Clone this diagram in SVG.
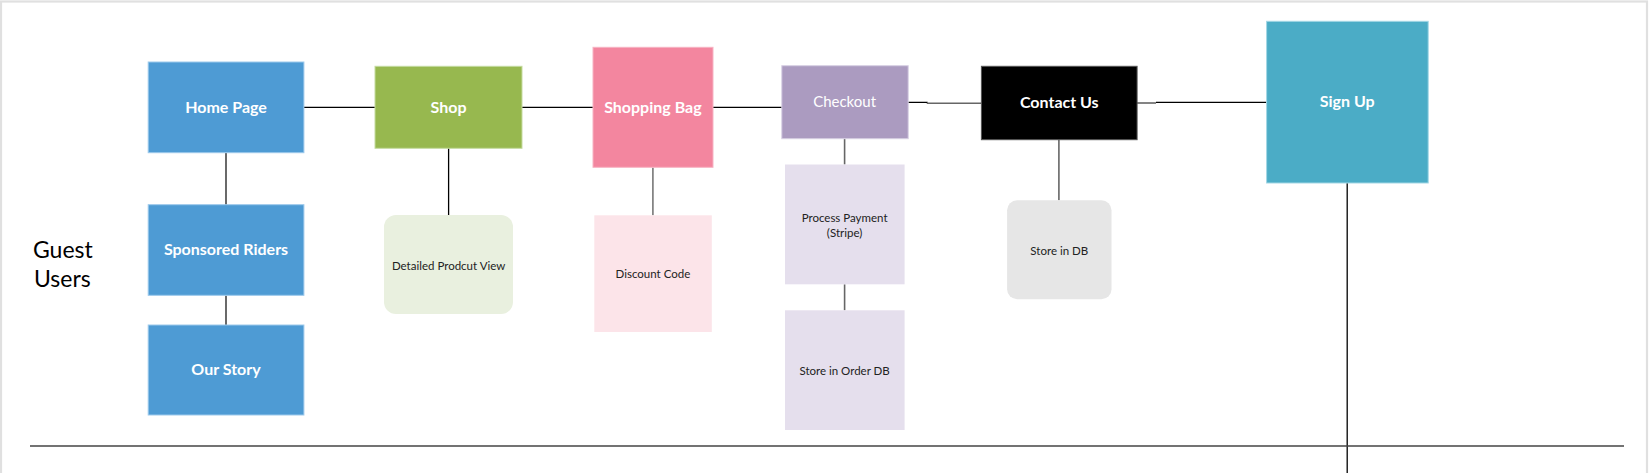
<svg xmlns="http://www.w3.org/2000/svg" width="1649" height="473" viewBox="0 0 1649 473">
<style>
.t{font-family:Lato,"Liberation Sans",sans-serif;text-anchor:middle;dominant-baseline:central}
.b{font-weight:bold;font-size:16px;fill:#fff}
.s{font-size:11.5px;fill:#222}
.c{fill:none;stroke:#000;stroke-width:1.3}
.g{fill:none;stroke:#666;stroke-width:1.6}
.blue{fill:#4e9bd4;stroke:#9cc9ec;stroke-width:1}
</style>
<rect x="0" y="0" width="1649" height="473" fill="#fff"/>
<rect x="1" y="1.5" width="1646" height="500" fill="none" stroke="#e0e0e0" stroke-width="2.2"/>
<text x="33" y="258" font-family="Lato,'Liberation Sans',sans-serif" font-size="23" fill="#000">Guest</text>
<text x="34" y="287" font-family="Lato,'Liberation Sans',sans-serif" font-size="23" fill="#000">Users</text>
<g id="connectors">
<path class="c" d="M304,107.3H375"/>
<path class="c" d="M522,107.3H593"/>
<path class="c" d="M713,107.3H788.5V111"/>
<path class="c" d="M908,102.3H927V103.3"/>
<path class="g" d="M927,103.3H981"/>
<path class="g" d="M1137,103H1156"/>
<path class="c" d="M1156,102.3H1266.5"/>
<path class="g" d="M226,153V205" style="stroke:#444"/>
<path class="g" d="M226,295.5V325" style="stroke:#444"/>
<path class="c" d="M448.6,148V215"/>
<path class="g" d="M652.9,167.5V215.3" style="stroke:#777"/>
<path class="g" d="M844.6,138.7V164.5"/>
<path class="g" d="M844.6,284.3V310.3"/>
<path class="g" d="M1058.9,139.7V200.3"/>
<path class="c" d="M1347.2,183V473"/>
<path d="M30,446H1624" stroke="#444" stroke-width="1.5" fill="none"/>
</g>
<g id="home"><rect class="blue" x="148.2" y="62" width="155.7" height="90.7"/><text class="t b" x="226" y="106.2">Home Page</text></g>
<g id="sponsored"><rect class="blue" x="148.2" y="204.7" width="155.7" height="90.6"/><text class="t b" x="226" y="248.5">Sponsored Riders</text></g>
<g id="story"><rect class="blue" x="148.2" y="325" width="155.7" height="90"/><text class="t b" x="226" y="368.5">Our Story</text></g>
<g id="shop"><rect x="375" y="66.3" width="147" height="82" fill="#97b84f" stroke="#c5dba0"/><text class="t b" x="448.6" y="106.2">Shop</text></g>
<g id="detail"><rect x="384" y="215" width="129" height="99" rx="12" fill="#e9f0df"/><text class="t s" x="448.6" y="265">Detailed Prodcut View</text></g>
<g id="bag"><rect x="593" y="47.3" width="120" height="120" fill="#f3869f" stroke="#f7b3c3"/><text class="t b" x="652.9" y="106.2">Shopping Bag</text></g>
<g id="discount"><rect x="594.3" y="215.3" width="117.5" height="116.7" fill="#fce4e9"/><text class="t s" x="652.9" y="273">Discount Code</text></g>
<g id="checkout"><rect x="781.8" y="65.7" width="126.4" height="73" fill="#ab9bc0" stroke="#d8d0e3"/><text class="t" x="844.6" y="101" style="font-size:15px;fill:#fff">Checkout</text></g>
<g id="payment"><rect x="785" y="164.5" width="119.6" height="119.8" fill="#e5dfed"/><text class="t s" x="844.6" y="217">Process Payment</text><text class="t s" x="844.6" y="232.3">(Stripe)</text></g>
<g id="orderdb"><rect x="785" y="310.3" width="119.6" height="119.7" fill="#e5dfed"/><text class="t s" x="844.6" y="370">Store in Order DB</text></g>
<g id="contact"><rect x="981.4" y="66.3" width="155.7" height="73.4" fill="#000" stroke="#555"/><text class="t b" x="1059.3" y="101">Contact Us</text></g>
<g id="storedb"><rect x="1007.1" y="200.3" width="104.4" height="99" rx="10" fill="#e6e6e6"/><text class="t s" x="1059.3" y="250">Store in DB</text></g>
<g id="signup"><rect x="1266.6" y="21.3" width="161.6" height="161.7" fill="#4bacc6" stroke="#a3d7e5"/><text class="t b" x="1347.2" y="100.8">Sign Up</text></g>
</svg>
